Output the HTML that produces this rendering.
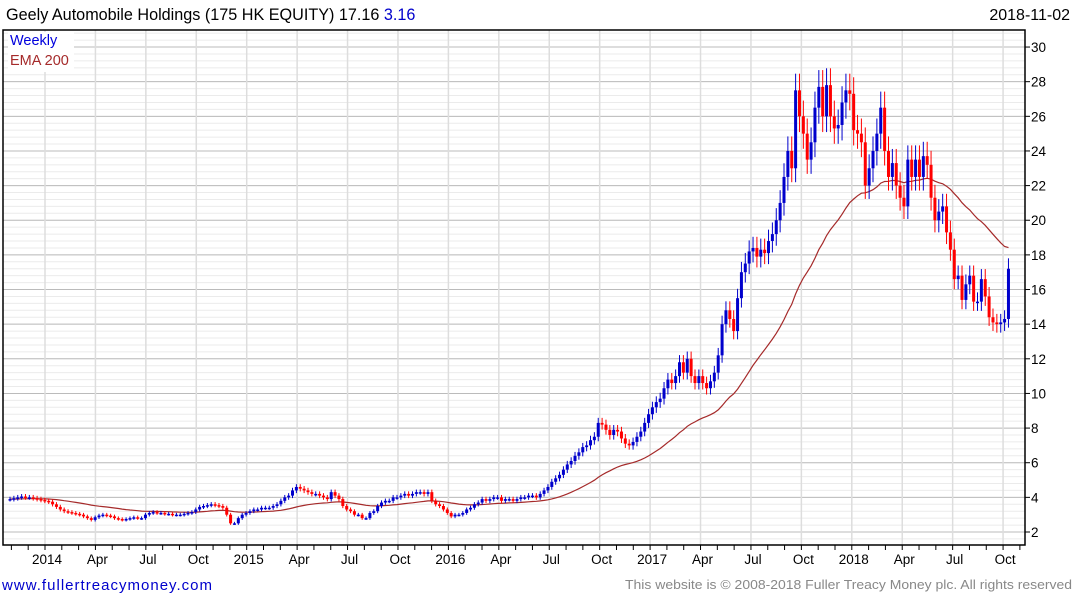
<!DOCTYPE html>
<html><head><meta charset="utf-8"><style>
body{margin:0;background:#fff;width:1075px;height:600px;overflow:hidden;font-family:"Liberation Sans",sans-serif}
svg{display:block}
</style></head><body>
<svg id="chart" width="1075" height="600" xmlns="http://www.w3.org/2000/svg" font-family="Liberation Sans, sans-serif">
<text x="6" y="20" font-size="16.2" fill="#000">Geely Automobile Holdings (175 HK EQUITY) 17.16 <tspan fill="#0000cc">3.16</tspan></text>
<text x="1070" y="20" font-size="16" fill="#000" text-anchor="end">2018-11-02</text>
<g id="grid"></g>
<g id="ema"></g>
<g id="candles"></g>
<g id="axes"></g>
<rect x="8" y="32" width="66" height="40" fill="#fff"/>
<text x="10" y="45" font-size="14.5" fill="#0000dd">Weekly</text>
<text x="10" y="65" font-size="14.5" fill="#a52a2a">EMA 200</text>
<text x="2" y="590" font-size="15" fill="#0000cc" textLength="210" lengthAdjust="spacing">www.fullertreacymoney.com</text>
<text x="625" y="589" font-size="12.5" fill="#888" textLength="447" lengthAdjust="spacingAndGlyphs">This website is © 2008-2018 Fuller Treacy Money plc. All rights reserved</text>
</svg>
<script>
const closes=[3.9,3.95,4.0,4.05,4.0,4.0,3.95,3.9,3.85,
3.8,3.75,3.6,3.45,3.3,3.2,3.15,3.1,3.05,3.0,2.9,2.8,2.7,2.85,2.95,3.0,2.95,2.9,2.8,2.75,2.7,2.75,2.8,2.85,2.8,2.8,
3.0,3.1,3.15,3.1,3.1,3.05,3.05,3.0,3.0,3.0,3.05,3.1,3.15,3.3,3.45,3.5,3.55,3.6,3.55,3.5,3.4,3.0,2.5,2.5,2.8,
3.0,3.1,3.2,3.3,3.3,3.4,3.4,3.4,3.5,3.6,3.8,4.0,4.1,4.4,4.6,4.5,4.4,4.3,4.2,4.2,4.1,4.0,3.9,4.3,4.1,3.9,
3.5,3.3,3.2,3.0,3.0,2.8,2.8,3.1,3.2,3.5,3.7,3.8,3.8,4.0,4.0,4.1,4.2,4.1,4.2,4.3,4.3,4.2,4.3,3.8,3.6,3.5,
3.3,3.1,2.9,3.0,3.0,3.1,3.3,3.4,3.6,3.7,3.9,3.8,3.9,4.0,4.0,3.8,3.9,3.9,3.8,3.9,4.0,4.0,4.1,4.1,4.0,4.2,
4.4,4.6,4.9,5.1,5.3,5.6,5.9,6.1,6.4,6.6,6.9,7.0,7.3,7.5,8.3,8.2,7.9,7.6,7.9,7.8,7.4,7.1,7.0,7.2,7.5,7.8,
8.3,8.8,9.2,9.5,9.7,10.3,10.8,10.6,11.0,11.8,11.2,12.0,11.0,10.6,11.0,10.6,10.3,10.7,11.2,12.2,14.0,14.8,14.3,13.6,15.5,17.0,
17.5,18.2,18.4,17.9,18.3,18.1,18.8,19.2,20.0,21.0,22.5,24.0,23.0,27.5,26.0,25.0,23.5,24.5,26.5,27.7,26.0,27.8,26.0,25.3,25.5,26.8,
27.5,27.3,25.2,25.0,24.5,22.0,23.0,24.0,25.0,26.5,24.0,22.5,23.3,22.0,21.3,20.8,23.5,22.5,23.5,22.5,23.7,23.2,21.3,20.0,20.5,20.8,
19.3,18.3,16.6,16.8,15.4,16.3,16.8,15.3,15.3,16.6,15.6,14.4,14.1,14.0,14.1,14.3,17.2];
const yTicks=[2,4,6,8,10,12,14,16,18,20,22,24,26,28,30];
const xLabels=["2014","Apr","Jul","Oct","2015","Apr","Jul","Oct","2016","Apr","Jul","Oct","2017","Apr","Jul","Oct","2018","Apr","Jul","Oct"];
const emaPeriod=40;

const NS="http://www.w3.org/2000/svg";
const L=3,R=1025,T=30,B=545;
const y=p=>532-(p-2)*17.32;
const x=i=>10+i*3.87;
const mx=m=>45+m*201.7/12;
function mk(tag,attrs,parent){const e=document.createElementNS(NS,tag);for(const k in attrs)e.setAttribute(k,attrs[k]);parent.appendChild(e);return e;}
const grid=document.getElementById('grid'),axes=document.getElementById('axes'),cg=document.getElementById('candles'),eg=document.getElementById('ema');
for(let v=1.2;v<=31;v+=0.4){const yy=y(v);if(yy<T||yy>B)continue;
 const g=mk('line',{x1:L,x2:R,y1:yy,y2:yy,stroke:'#ebebeb','stroke-width':1},grid);
 
 }
yTicks.forEach(v=>{const yy=y(v);
 const g=mk('line',{x1:L,x2:R,y1:yy,y2:yy,stroke:'#bbbbbb','stroke-width':1},grid);
 
 
 const tk=mk('line',{x1:R,x2:R+5,y1:yy,y2:yy,stroke:'#000'},axes);
 
 
 const t=mk('text',{x:R+6,y:yy+5,'font-size':13.5,fill:'#000'},axes);t.textContent=v;
 
 });
xLabels.forEach((s,k)=>{const xx=mx(k*3);
 const g=mk('line',{x1:xx,x2:xx,y1:T,y2:B,stroke:'#dddddd','stroke-width':1.5},grid);
 
 
 const t=mk('text',{x:xx+2,y:564,'font-size':13.5,fill:'#000','text-anchor':'middle'},axes);t.textContent=s;
 
 });
for(let m=-2;m<59;m++){const xx=mx(m);if(xx<L||xx>R)continue;
 const tk=mk('line',{x1:xx,x2:xx,y1:B,y2:B+5,stroke:'#000'},axes);
 
 }
const frame=mk('path',{d:`M${L} ${T}H${R}V${B}H${L}Z`,fill:'none',stroke:'#000','stroke-width':1.5},axes);


let e=closes[0],pts=[];
closes.forEach((c,i)=>{e=e+(c-e)*2/(emaPeriod+1);pts.push(x(i).toFixed(1)+','+y(e).toFixed(1));});
const pl=mk('polyline',{points:pts.join(' '),fill:'none',stroke:'#a52a2a','stroke-width':1.2},eg);


closes.forEach((c,i)=>{const o=i?closes[i-1]:c;const hi=Math.max(o,c)*1.035,lo=Math.min(o,c)*0.965;
 const col=c>=o?'#0000cc':'#ff0000';const xx=x(i);
 const w=mk('line',{x1:xx,x2:xx,y1:y(hi),y2:y(lo),stroke:col,'stroke-width':1},cg);
 
 
 const top=y(Math.max(o,c)),h=Math.max(1.5,y(Math.min(o,c))-top);
 const r=mk('rect',{x:xx-1.5,y:top,width:3,height:h,fill:col},cg);
 
 });
</script>
</body></html>
